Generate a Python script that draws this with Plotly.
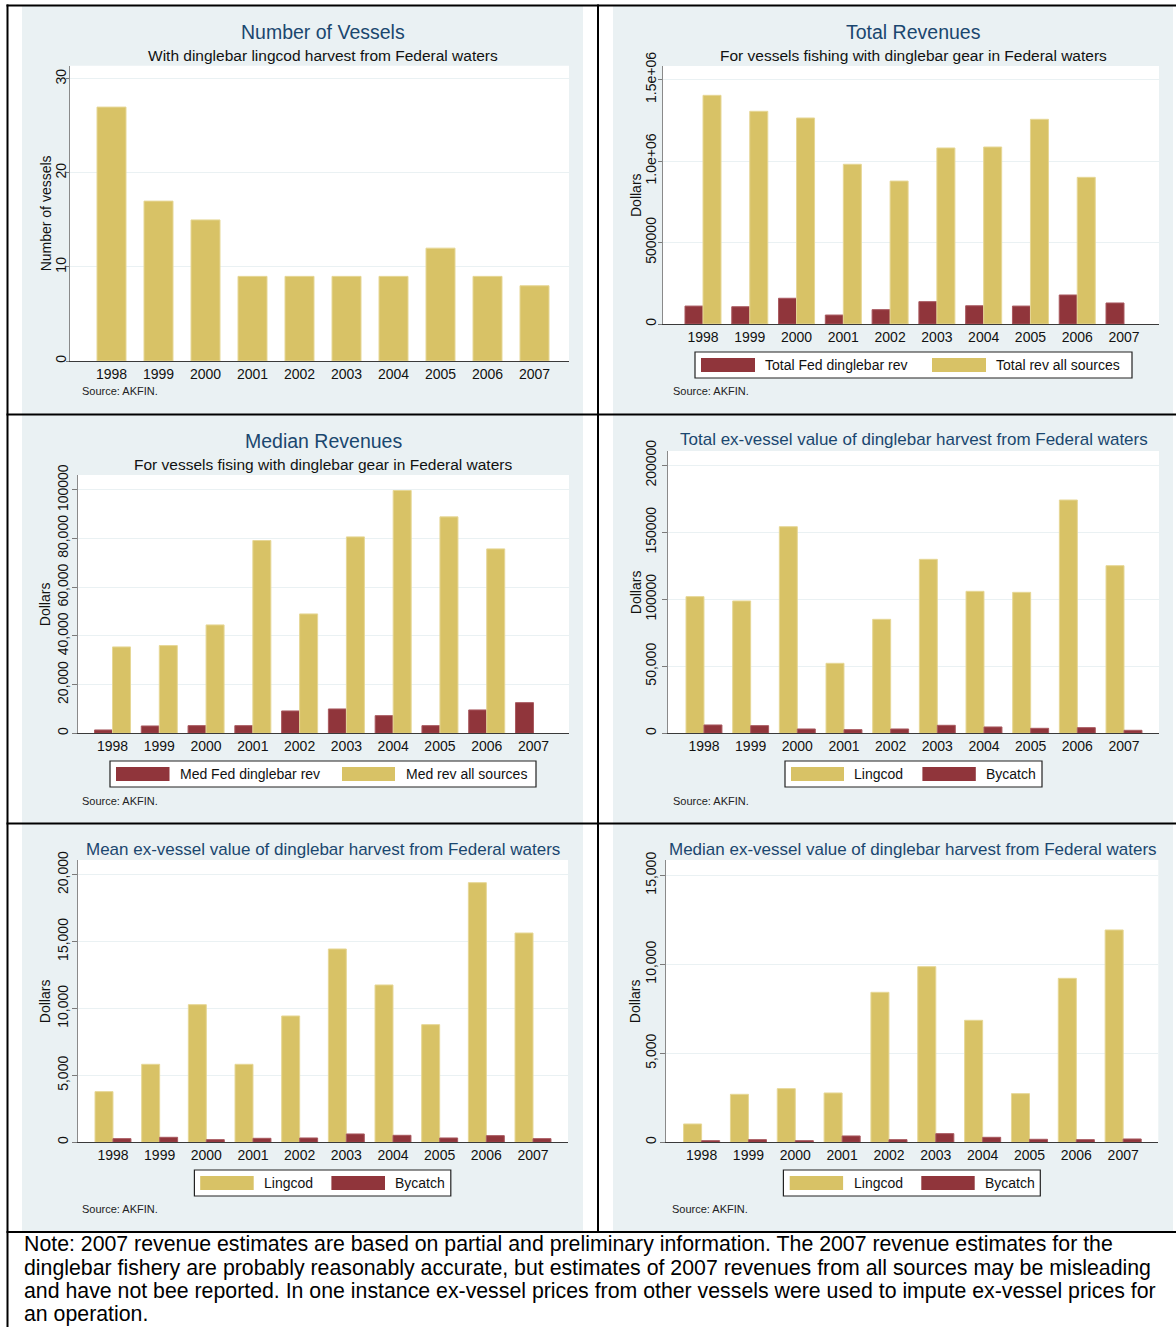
import plotly.graph_objects as go

W, H = 1176, 1327

# ---------------- data ----------------
years = [1998, 1999, 2000, 2001, 2002, 2003, 2004, 2005, 2006, 2007]
year_labels = [str(y) for y in years]

vessels = [27, 17, 15, 9, 9, 9, 9, 12, 9, 8]

tot_fed_rev = [110000, 106000, 158000, 55000, 88000, 137000, 112000, 110000, 178000, 129000]
tot_all_rev = [1403000, 1305000, 1264000, 980000, 877000, 1080000, 1086000, 1256000, 900000, None]

med_fed_rev = [1370, 3010, 3150, 3150, 9180, 10000, 7260, 3150, 9590, 12600]
med_all_rev = [35480, 36030, 44520, 79180, 49040, 80680, 99730, 88900, 75750, None]

tot_lingcod = [102000, 98760, 154200, 52240, 85070, 129850, 105970, 105220, 174130, 125120]
tot_bycatch = [6220, 5720, 3230, 2740, 3230, 5970, 4730, 3730, 4230, 2240]

mean_lingcod = [3786, 5828, 10286, 5828, 9440, 14446, 11756, 8792, 19402, 15641]
mean_bycatch = [274, 374, 199, 299, 324, 623, 523, 324, 498, 274]

median_lingcod = [1030, 2697, 3015, 2772, 8427, 9869, 6854, 2734, 9213, 11929]
median_bycatch = [94, 150, 94, 356, 150, 487, 281, 169, 150, 187]

ticks_vessels = [0, 10, 20, 30]
ticktext_vessels = ["0", "10", "20", "30"]
ticks_totrev = [0, 500000, 1000000, 1500000]
ticktext_totrev = ["0", "500000", "1.0e+06", "1.5e+06"]
ticks_medrev = [0, 20000, 40000, 60000, 80000, 100000]
ticktext_medrev = ["0", "20,000", "40,000", "60,000", "80,000", "100000"]
ticks_totval = [0, 50000, 100000, 150000, 200000]
ticktext_totval = ["0", "50,000", "100000", "150000", "200000"]
ticks_meanval = [0, 5000, 10000, 15000, 20000]
ticktext_meanval = ["0", "5,000", "10,000", "15,000", "20,000"]
ticks_medval = [0, 5000, 10000, 15000]
ticktext_medval = ["0", "5,000", "10,000", "15,000"]

titles = ["Number of Vessels", "Total Revenues", "Median Revenues",
          "Total ex-vessel value of dinglebar harvest from Federal waters",
          "Mean ex-vessel value of dinglebar harvest from Federal waters",
          "Median ex-vessel value of dinglebar harvest from Federal waters"]
subtitles = ["With dinglebar lingcod harvest from Federal waters",
             "For vessels fishing with dinglebar gear in Federal waters",
             "For vessels fising with dinglebar gear in Federal waters",
             None, None, None]
ytitles = ["Number of vessels", "Dollars", "Dollars", "Dollars", "Dollars", "Dollars"]
source_text = "Source: AKFIN."
note_lines = [
    "Note: 2007 revenue estimates are based on partial and preliminary information. The 2007 revenue estimates for the",
    "dinglebar fishery are probably reasonably accurate, but estimates of 2007 revenues from all sources may be misleading",
    "and have not bee reported. In one instance ex-vessel prices from other vessels were used to impute ex-vessel prices for",
    "an operation.",
]

# ---------------- styles ----------------
GOLD = "#D8C266"
GOLD_EDGE = "#E6D796"
RED = "#90353B"
RED_EDGE = "#A95A60"
BG = "#EAF1F3"
NAVY = "#1A476F"
FONT = "Arial, Liberation Sans, sans-serif"


def fx(x):
    return x / W


def fy(y):
    return 1 - y / H


# panel geometry in pixels
panels = [
    dict(plot=(70, 65.7, 569, 361), xr=(1997.117, 2007.734), yr=(0, 31.4),
         ticks=(ticks_vessels, ticktext_vessels), bg=(22, 6, 583, 414.5),
         title_xy=(323, 32), title_size=19.5, sub_y=55, ytitle_x=46, src=(80, 391),
         ticklen=3, standoff=-6),
    dict(plot=(663, 66, 1159, 324), xr=(1997.145, 2007.748), yr=(0, 1.583e6),
         ticks=(ticks_totrev, ticktext_totrev), bg=(613, 6, 1173, 414.5),
         title_xy=(913, 32), title_size=19.5, sub_y=55, ytitle_x=636, src=(671, 391),
         ticklen=4, standoff=-4),
    dict(plot=(78, 475, 569, 733.3), xr=(1997.262, 2007.759), yr=(0, 106100),
         ticks=(ticks_medrev, ticktext_medrev), bg=(22, 414.5, 583, 823.5),
         title_xy=(323, 441), title_size=19.5, sub_y=464, ytitle_x=45, src=(80, 800.7),
         ticklen=5, standoff=-2),
    dict(plot=(668, 451, 1159, 733.3), xr=(1997.229, 2007.75), yr=(0, 210700),
         ticks=(ticks_totval, ticktext_totval), bg=(613, 414.5, 1173, 823.5),
         title_xy=(914, 439.3), title_size=17, sub_y=None, ytitle_x=636, src=(671, 800.7),
         ticklen=5, standoff=0),
    dict(plot=(77.7, 860, 568, 1142.3), xr=(1997.244, 2007.75), yr=(0, 21096),
         ticks=(ticks_meanval, ticktext_meanval), bg=(22, 823.5, 583, 1232),
         title_xy=(323, 849.3), title_size=17, sub_y=None, ytitle_x=45, src=(80, 1209),
         ticklen=5, standoff=-2),
    dict(plot=(666, 860, 1158.3, 1142.3), xr=(1997.24, 2007.75), yr=(0, 15861),
         ticks=(ticks_medval, ticktext_medval), bg=(613, 823.5, 1173, 1232),
         title_xy=(913, 849), title_size=17, sub_y=None, ytitle_x=635, src=(670, 1209),
         ticklen=5, standoff=-2),
]

BW = 0.385
series = [
    [(vessels, GOLD, GOLD_EDGE, -0.3085, 0.617)],
    [(tot_fed_rev, RED, RED_EDGE, -BW, BW), (tot_all_rev, GOLD, GOLD_EDGE, 0, BW)],
    [(med_fed_rev, RED, RED_EDGE, -BW, BW), (med_all_rev, GOLD, GOLD_EDGE, 0, BW)],
    [(tot_lingcod, GOLD, GOLD_EDGE, -BW, BW), (tot_bycatch, RED, RED_EDGE, 0, BW)],
    [(mean_lingcod, GOLD, GOLD_EDGE, -BW, BW), (mean_bycatch, RED, RED_EDGE, 0, BW)],
    [(median_lingcod, GOLD, GOLD_EDGE, -BW, BW), (median_bycatch, RED, RED_EDGE, 0, BW)],
]

legends = [
    None,
    dict(box=(695, 352, 1132, 378), items=[(701, 755, RED, 763, "Total Fed dinglebar rev"),
                                          (932, 986, GOLD, 994, "Total rev all sources")]),
    dict(box=(110, 761, 536, 787), items=[(116, 169.5, RED, 178, "Med Fed dinglebar rev"),
                                         (342, 395, GOLD, 403.7, "Med rev all sources")]),
    dict(box=(785, 761, 1042, 787), items=[(791, 844, GOLD, 852.3, "Lingcod"),
                                          (922.4, 975.8, RED, 984.3, "Bycatch")]),
    dict(box=(194.4, 1170, 450.8, 1196), items=[(200.2, 253.7, GOLD, 262.1, "Lingcod"),
                                               (331.4, 385, RED, 393.4, "Bycatch")]),
    dict(box=(783.4, 1170, 1040.3, 1196), items=[(789.7, 843.1, GOLD, 851.6, "Lingcod"),
                                                (921.3, 974.7, RED, 983.2, "Bycatch")]),
]

fig = go.Figure()
shapes = []
annotations = []
layout_axes = {}

for i, p in enumerate(panels):
    n = i + 1
    xa = "x" if n == 1 else f"x{n}"
    ya = "y" if n == 1 else f"y{n}"
    x0, y0, x1, y1 = p["plot"]
    for vals, col, edge, off, wd in series[i]:
        fig.add_trace(go.Bar(x=years, y=vals, xaxis=xa, yaxis=ya, width=wd, offset=off,
                             marker=dict(color=col, line=dict(color=edge, width=1)),
                             showlegend=False, hoverinfo="x+y"))
    layout_axes["xaxis" if n == 1 else f"xaxis{n}"] = dict(
        domain=[fx(x0), fx(x1)], range=list(p["xr"]), anchor=ya, automargin=False,
        tickmode="array", tickvals=years, ticktext=year_labels,
        showgrid=False, zeroline=False, ticks="", showline=True,
        linecolor="#3a3a3a", linewidth=1.4,
        tickfont=dict(family=FONT, size=14, color="#111"), fixedrange=True)
    tv, tt = p["ticks"]
    layout_axes["yaxis" if n == 1 else f"yaxis{n}"] = dict(
        domain=[fy(y1), fy(y0)], range=list(p["yr"]), anchor=xa, automargin=False,
        tickmode="array", tickvals=tv, ticktext=tt, tickangle=-90,
        ticks="outside", ticklen=p["ticklen"], tickcolor="#7a7a7a", tickwidth=1,
        ticklabelstandoff=p["standoff"],
        showline=True, linecolor="#8a8a8a", linewidth=1.2,
        showgrid=True, gridcolor=BG, gridwidth=1, zeroline=False,
        tickfont=dict(family=FONT, size=14, color="#111"), fixedrange=True)

    bx0, by0, bx1, by1 = p["bg"]
    shapes.append(dict(type="rect", xref="paper", yref="paper", x0=fx(bx0), x1=fx(bx1),
                       y0=fy(by1), y1=fy(by0), fillcolor=BG, line=dict(width=0), layer="below"))
    shapes.append(dict(type="rect", xref="paper", yref="paper", x0=fx(x0), x1=fx(x1),
                       y0=fy(y1), y1=fy(y0), fillcolor="white", line=dict(width=0), layer="below"))

    tx, tyy = p["title_xy"]
    annotations.append(dict(text=titles[i], x=fx(tx), y=fy(tyy), xref="paper", yref="paper",
                            xanchor="center", yanchor="middle", showarrow=False,
                            font=dict(family=FONT, size=p["title_size"], color=NAVY)))
    if subtitles[i]:
        annotations.append(dict(text=subtitles[i], x=fx(tx), y=fy(p["sub_y"]), xref="paper", yref="paper",
                                xanchor="center", yanchor="middle", showarrow=False,
                                font=dict(family=FONT, size=15.5, color="#111")))
    annotations.append(dict(text=ytitles[i], x=fx(p["ytitle_x"]), y=fy((y0 + y1) / 2), xref="paper",
                            yref="paper", xanchor="center", yanchor="middle", showarrow=False,
                            textangle=-90, font=dict(family=FONT, size=14, color="#111")))
    sx, sy = p["src"]
    annotations.append(dict(text=source_text, x=fx(sx), y=fy(sy), xref="paper", yref="paper",
                            xanchor="left", yanchor="middle", showarrow=False,
                            font=dict(family=FONT, size=11, color="#222")))

    lg = legends[i]
    if lg:
        lx0, ly0, lx1, ly1 = lg["box"]
        shapes.append(dict(type="rect", xref="paper", yref="paper", x0=fx(lx0), x1=fx(lx1),
                           y0=fy(ly1), y1=fy(ly0), fillcolor="white",
                           line=dict(color="#222", width=1.2), layer="above"))
        for sx0, sx1, col, txx, lab in lg["items"]:
            shapes.append(dict(type="rect", xref="paper", yref="paper", x0=fx(sx0), x1=fx(sx1),
                               y0=fy(ly1 - 6), y1=fy(ly0 + 6), fillcolor=col,
                               line=dict(width=0), layer="above"))
            annotations.append(dict(text=lab, x=fx(txx), y=fy((ly0 + ly1) / 2), xref="paper",
                                    yref="paper", xanchor="left", yanchor="middle", showarrow=False,
                                    font=dict(family=FONT, size=14, color="#111")))


def hline(y, xa, xb):
    shapes.append(dict(type="line", xref="paper", yref="paper", x0=fx(xa), x1=fx(xb),
                       y0=fy(y), y1=fy(y), line=dict(color="black", width=2), layer="above"))


def vline(x, ya, yb):
    shapes.append(dict(type="line", xref="paper", yref="paper", x0=fx(x), x1=fx(x),
                       y0=fy(ya), y1=fy(yb), line=dict(color="black", width=2), layer="above"))


hline(5.5, 6.5, 1176)
hline(414.5, 6.5, 1176)
hline(823.5, 6.5, 1176)
hline(1232, 6.5, 1176)
vline(7.5, 4.5, 1327)
vline(598, 4.5, 1232)

note_y = [1244, 1267.5, 1291, 1314]
for line, ly in zip(note_lines, note_y):
    annotations.append(dict(text=line, x=fx(22), y=fy(ly), xref="paper", yref="paper",
                            xanchor="left", yanchor="middle", align="left", showarrow=False,
                            font=dict(family=FONT, size=21.3, color="#000")))

fig.update_layout(width=W, height=H, margin=dict(l=0, r=0, t=0, b=0, autoexpand=False),
                  paper_bgcolor="white", plot_bgcolor="rgba(0,0,0,0)",
                  barmode="overlay", showlegend=False,
                  shapes=shapes, annotations=annotations, font=dict(family=FONT),
                  **layout_axes)

fig.write_html("out.html")
